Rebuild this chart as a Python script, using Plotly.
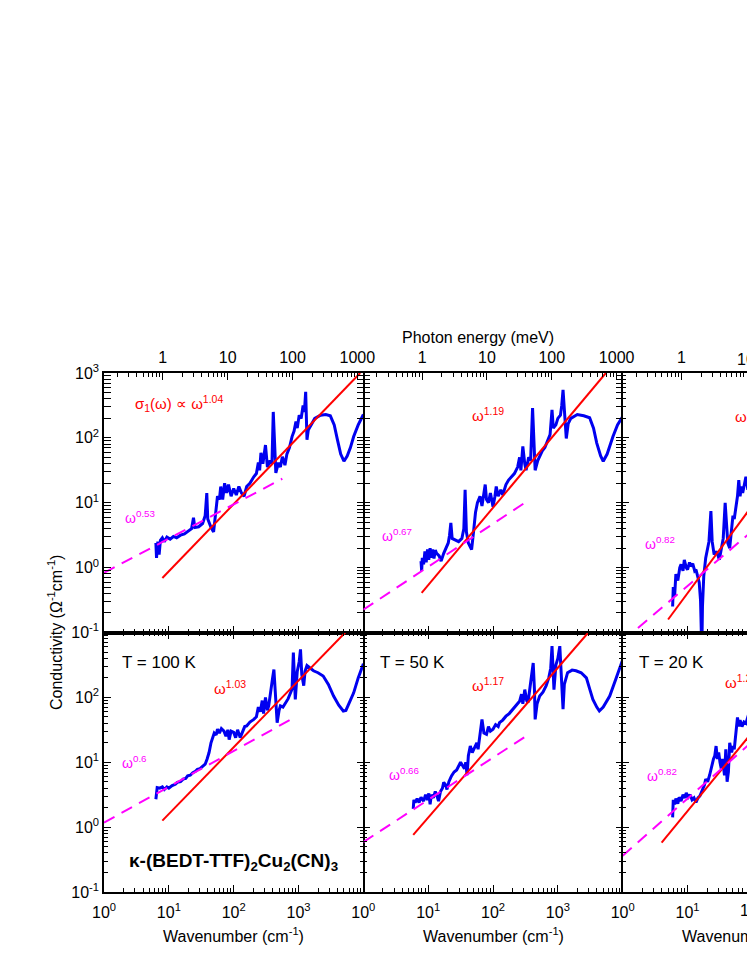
import numpy as np
import plotly.graph_objects as go

# ---------------- data ----------------
# log10 of wavenumber (cm^-1) and log10 of conductivity (Ohm^-1 cm^-1)
tl_lognu = [0.80,0.81,0.83,0.85,0.87,0.90,0.93,0.97,1.02,1.07,
            1.12,1.18,1.24,1.30,1.35,1.38,1.40,1.46,1.52,1.56,
            1.585,1.60,1.65,1.69,1.72,1.75,1.78,1.80,1.83,1.86,
            1.89,1.92,1.96,2.00,2.04,2.08,2.12,2.16,2.20,2.25,
            2.31,2.35,2.38,2.40,2.42,2.45,2.49,2.52,2.56,2.59,
            2.61,2.63,2.65,2.69,2.72,2.75,2.79,2.82,2.86,2.90,
            2.93,2.96,2.98,3.01,3.04,3.07,3.09,3.11,3.12,3.13,
            3.15,3.18,3.25,3.34,3.42,3.49,3.55,3.60,3.65,3.70,
            3.75,3.80,3.85,3.92,4.00]
tl_logsig = [0.38,0.15,0.40,0.20,0.42,0.46,0.40,0.47,0.44,0.48,
             0.46,0.50,0.52,0.56,0.60,0.77,0.62,0.63,0.68,0.80,
             1.15,0.75,0.62,0.55,0.85,1.10,1.05,1.25,1.05,1.30,
             1.15,1.28,1.10,1.22,1.12,1.25,1.15,1.10,1.25,1.30,
             1.40,1.45,1.62,1.50,1.77,1.60,1.89,1.55,1.65,1.60,
             2.40,1.75,1.46,1.62,1.55,1.71,1.58,1.75,1.85,2.02,
             2.10,2.25,2.15,2.35,2.30,2.50,2.40,2.71,2.30,1.97,
             2.12,2.17,2.30,2.35,2.36,2.34,2.20,1.97,1.75,1.64,
             1.72,1.85,2.02,2.20,2.36]

tm_lognu = [0.89,0.90,0.91,0.93,0.95,0.97,0.99,1.01,1.03,1.05,
            1.07,1.09,1.11,1.13,1.17,1.20,1.24,1.28,1.31,1.33,
            1.35,1.37,1.42,1.47,1.52,1.55,1.57,1.59,1.62,1.67,
            1.70,1.73,1.76,1.80,1.83,1.86,1.88,1.90,1.93,1.96,
            2.00,2.03,2.05,2.08,2.12,2.15,2.20,2.24,2.28,2.33,
            2.38,2.41,2.43,2.46,2.49,2.51,2.55,2.58,2.61,2.63,
            2.65,2.69,2.72,2.76,2.80,2.84,2.88,2.91,2.93,2.97,
            3.00,3.04,3.06,3.08,3.10,3.13,3.16,3.20,3.30,3.40,
            3.49,3.55,3.60,3.66,3.70,3.76,3.85,3.92,4.00]
tm_logsig = [0.10,-0.05,0.15,0.05,0.25,0.08,0.28,0.12,0.30,0.15,
             0.28,0.14,0.27,0.22,0.18,0.10,0.22,0.32,0.38,0.50,
             0.69,0.45,0.42,0.40,0.45,0.60,1.20,0.55,0.38,0.28,
             0.55,0.85,1.00,1.10,0.95,1.20,1.28,1.05,1.00,1.15,
             0.94,1.10,1.25,1.10,1.20,1.12,1.28,1.35,1.40,1.45,
             1.55,1.70,1.50,1.87,1.60,1.50,1.70,1.65,2.46,1.80,
             1.50,1.65,1.71,1.80,1.85,1.95,2.05,2.43,2.15,2.20,
             2.30,2.35,2.50,2.74,2.40,1.99,2.22,2.30,2.36,2.34,
             2.31,2.15,1.92,1.72,1.64,1.75,2.02,2.20,2.33]

tr_lognu = [0.77,0.78,0.80,0.82,0.85,0.88,0.90,0.93,0.95,0.98,
            1.00,1.03,1.05,1.08,1.11,1.13,1.16,1.18,1.20,1.22,
            1.23,1.25,1.28,1.30,1.33,1.36,1.38,1.41,1.45,1.49,
            1.52,1.55,1.58,1.60,1.62,1.65,1.68,1.70,1.72,1.75,
            1.77,1.79,1.81,1.83,1.85,1.88,1.90,1.93,1.96,2.00,
            2.10,2.20,2.30,2.50,2.61,2.70,3.00,3.50,3.70,4.00]
tr_logsig = [-0.60,-0.30,-0.45,-0.10,-0.20,0.00,0.05,-0.05,0.12,0.00,
             -0.03,0.08,0.02,0.06,-0.05,-0.03,-0.15,-0.23,-0.50,-1.30,
             -0.60,-0.13,0.15,0.28,0.40,0.87,0.40,0.20,0.25,0.12,
             0.30,0.45,1.00,0.60,0.38,0.30,0.55,0.80,0.75,0.95,
             1.10,1.35,1.10,1.25,1.15,1.30,1.40,1.20,1.35,1.30,
             1.35,1.45,1.55,1.80,2.40,1.80,2.30,2.30,1.65,2.30]

bl_lognu = [0.80,0.81,0.82,0.86,0.90,0.93,0.97,1.00,1.05,1.10,
            1.13,1.18,1.22,1.26,1.29,1.33,1.37,1.41,1.44,1.48,
            1.52,1.56,1.59,1.62,1.65,1.67,1.70,1.73,1.75,1.78,
            1.81,1.85,1.88,1.91,1.93,1.96,2.00,2.03,2.06,2.10,
            2.13,2.17,2.20,2.25,2.31,2.35,2.38,2.41,2.44,2.46,
            2.49,2.52,2.54,2.57,2.60,2.62,2.64,2.66,2.67,2.70,
            2.72,2.76,2.80,2.84,2.88,2.90,2.92,2.94,2.95,2.98,
            3.01,3.03,3.05,3.08,3.10,3.13,3.18,3.23,3.30,3.38,
            3.46,3.54,3.62,3.69,3.73,3.80,3.85,3.92,4.00]
bl_logsig = [0.43,0.55,0.61,0.60,0.62,0.58,0.62,0.60,0.64,0.66,
             0.69,0.70,0.74,0.75,0.79,0.80,0.84,0.86,0.89,0.90,
             0.94,0.97,1.05,1.15,1.30,1.35,1.45,1.42,1.51,1.45,
             1.52,1.48,1.40,1.50,1.35,1.48,1.46,1.38,1.50,1.38,
             1.45,1.55,1.56,1.62,1.66,1.70,1.85,1.78,1.95,1.75,
             2.00,1.80,1.87,2.05,2.30,2.43,2.10,1.90,1.61,1.80,
             1.87,1.85,1.92,1.98,2.08,2.13,2.69,2.00,1.97,2.40,
             2.55,2.74,2.35,2.18,2.40,2.49,2.45,2.41,2.38,2.33,
             2.20,2.02,1.88,1.79,1.80,1.95,2.07,2.30,2.52]

bm_lognu = [0.77,0.78,0.80,0.83,0.86,0.89,0.93,0.96,0.99,1.01,
            1.03,1.05,1.08,1.11,1.13,1.16,1.19,1.22,1.24,1.27,
            1.29,1.32,1.36,1.40,1.44,1.47,1.50,1.53,1.56,1.58,
            1.60,1.62,1.65,1.68,1.72,1.75,1.77,1.80,1.83,1.86,
            1.90,1.93,1.96,2.00,2.04,2.08,2.10,2.15,2.20,2.25,
            2.31,2.36,2.41,2.44,2.46,2.49,2.52,2.54,2.57,2.60,
            2.62,2.64,2.65,2.68,2.72,2.77,2.82,2.86,2.89,2.91,
            2.93,2.94,2.97,3.00,3.03,3.05,3.08,3.10,3.15,3.22,
            3.28,3.36,3.44,3.50,3.54,3.60,3.64,3.70,3.80,3.90,
            4.00]
bm_logsig = [0.28,0.42,0.38,0.44,0.38,0.46,0.40,0.50,0.42,0.52,
             0.35,0.50,0.45,0.55,0.50,0.40,0.55,0.60,0.69,0.65,
             0.58,0.70,0.79,0.85,0.88,0.94,1.00,0.95,0.90,1.00,
             0.80,1.10,1.25,1.15,1.25,1.30,1.20,1.45,1.66,1.45,
             1.43,1.55,1.48,1.51,1.58,1.55,1.61,1.65,1.71,1.75,
             1.82,1.88,1.94,2.05,1.90,2.12,1.95,1.92,2.15,2.35,
             2.53,2.10,1.66,1.90,2.02,2.08,2.18,2.30,2.45,2.79,
             2.30,2.12,2.50,2.60,2.79,2.40,1.82,2.20,2.38,2.42,
             2.41,2.38,2.30,2.10,1.97,1.85,1.79,1.85,2.02,2.30,
             2.58]

br_lognu = [0.77,0.78,0.80,0.82,0.85,0.87,0.90,0.93,0.96,0.98,
            1.01,1.04,1.07,1.10,1.13,1.16,1.19,1.21,1.24,1.26,
            1.28,1.31,1.34,1.36,1.38,1.40,1.42,1.44,1.46,1.48,
            1.50,1.52,1.54,1.56,1.57,1.59,1.60,1.61,1.63,1.65,
            1.68,1.70,1.72,1.74,1.76,1.77,1.79,1.81,1.84,1.87,
            1.90,1.93,2.00,2.20,2.40,2.60,2.70,3.00,3.50,3.70,
            4.00]
br_logsig = [0.15,0.42,0.35,0.44,0.36,0.46,0.40,0.50,0.45,0.53,
             0.46,0.50,0.42,0.45,0.38,0.45,0.48,0.53,0.60,0.65,
             0.74,0.70,0.80,0.90,1.00,1.05,1.10,1.25,1.05,1.15,
             1.00,0.90,1.05,0.85,0.80,1.20,1.00,0.70,0.85,1.30,
             1.15,1.25,1.20,1.40,1.65,1.69,1.55,1.65,1.55,1.62,
             1.60,1.70,1.65,1.75,1.95,2.40,1.90,2.50,2.20,1.80,
             2.50]

# power-law fits (red, solid) : end points, log10 values
red_lognu = {"tl": [0.90, 3.95], "tm": [0.90, 3.74], "tr": [0.70, 3.51],
             "bl": [0.90, 3.72], "bm": [0.77, 3.47], "br": [0.60, 3.26]}
red_logsig = {"tl": [-0.16, 3.0], "tm": [-0.39, 3.0], "tr": [-0.80, 3.0],
              "bl": [0.10, 3.0], "bm": [-0.12, 3.0], "br": [-0.24, 3.0]}
# low-frequency power laws (magenta, dashed)
mag_lognu = {"tl": [0.0, 2.75], "tm": [0.0, 2.49], "tr": [0.0, 2.50],
             "bl": [0.0, 2.88], "bm": [0.0, 2.49], "br": [0.0, 2.50]}
mag_logsig = {"tl": [-0.08, 1.37], "tm": [-0.65, 1.00], "tr": [-1.13, 0.99],
              "bl": [0.07, 1.66], "bm": [-0.23, 1.39], "br": [-0.44, 1.76]}

red_exponents = {"tl": "1.04", "tm": "1.19", "tr": "1.35", "bl": "1.03", "bm": "1.17", "br": "1.22"}
mag_exponents = {"tl": "0.53", "tm": "0.67", "tr": "0.82", "bl": "0.6", "bm": "0.66", "br": "0.82"}
temperatures = {"bl": "T = 100 K", "bm": "T = 50 K", "br": "T = 20 K"}

x_tick_vals = [1, 10, 100, 1000, 10000]
x_tick_text = ["10<sup>0</sup>", "10<sup>1</sup>", "10<sup>2</sup>", "10<sup>3</sup>", "10<sup>4</sup>"]
y_tick_vals = [0.1, 1, 10, 100, 1000]
y_tick_text = ["10<sup>-1</sup>", "10<sup>0</sup>", "10<sup>1</sup>", "10<sup>2</sup>", "10<sup>3</sup>"]
mev_tick_vals = [1, 10, 100, 1000]
mev_tick_text = ["1", "10", "100", "1000"]

CM_PER_MEV = 8.0655

# ---------------- layout geometry ----------------
W, H = 747, 967
FONT = "Arial, 'Liberation Sans', sans-serif"
col_left = [104.0, 363.3, 622.7]
col_w = 259.4
row_top = [373.0, 632.5]
row_h = 259.5
dec_px = col_w / 4.0

def fx(px):
    return px / W

def fy(py):
    return 1 - py / H

minor_x = [m * 10 ** d for d in range(0, 4) for m in range(2, 10)]
minor_y = [m * 10 ** d for d in range(-1, 3) for m in range(2, 10)]
minor_mev = [m * 10 ** d for d in range(-1, 4) for m in range(2, 10)]

def minor(vals):
    return dict(tickmode="array", tickvals=vals, ticks="inside", ticklen=4,
                tickwidth=1, tickcolor="black", showgrid=False)

fig = go.Figure()
panels = [("tl", 0, 0), ("tm", 0, 1), ("tr", 0, 2), ("bl", 1, 0), ("bm", 1, 1), ("br", 1, 2)]
spectra = {"tl": (tl_lognu, tl_logsig), "tm": (tm_lognu, tm_logsig), "tr": (tr_lognu, tr_logsig),
           "bl": (bl_lognu, bl_logsig), "bm": (bm_lognu, bm_logsig), "br": (br_lognu, br_logsig)}

axis_common = dict(type="log", showline=True, linecolor="black", linewidth=1.5,
                   ticks="inside", ticklen=7, tickwidth=1.2, tickcolor="black",
                   showgrid=False, zeroline=False, automargin=False,
                   tickfont=dict(family=FONT, size=16, color="black"))

annotations = []
for i, (key, r, c) in enumerate(panels):
    n = i + 1
    xa = "x" if n == 1 else f"x{n}"
    ya = "y" if n == 1 else f"y{n}"
    lx, ly = spectra[key]
    fig.add_trace(go.Scatter(x=10 ** np.array(lx), y=10 ** np.array(ly), mode="lines",
                             line=dict(color="#0000F0", width=3), xaxis=xa, yaxis=ya,
                             showlegend=False, hoverinfo="skip"))
    fig.add_trace(go.Scatter(x=10 ** np.array(red_lognu[key]), y=10 ** np.array(red_logsig[key]),
                             mode="lines", line=dict(color="#FF0000", width=2),
                             xaxis=xa, yaxis=ya, showlegend=False, hoverinfo="skip"))
    fig.add_trace(go.Scatter(x=10 ** np.array(mag_lognu[key]), y=10 ** np.array(mag_logsig[key]),
                             mode="lines", line=dict(color="#FF00FF", width=2, dash="12px,8px"),
                             xaxis=xa, yaxis=ya, showlegend=False, hoverinfo="skip"))

    x0 = col_left[c]
    x1 = min(x0 + col_w, W)
    xdom = [fx(x0), fx(x1)]
    xmax_log = 4.0 * (x1 - x0) / col_w
    ytop = row_top[r]
    ydom = [fy(ytop + row_h), fy(ytop)]

    xt = list(x_tick_text)
    if c < 2:
        xt[4] = ""
    xaxis = dict(axis_common, domain=xdom, range=[0, xmax_log], anchor=ya,
                 tickmode="array", tickvals=x_tick_vals, ticktext=xt,
                 showticklabels=(r == 1), mirror=("allticks" if r == 1 else False),
                 ticklabelstandoff=5, minor=minor(minor_x))
    yt = list(y_tick_text)
    if r == 1:
        yt[4] = ""
    # shared column borders are drawn once: col 1 draws its own frame (left + mirrored right),
    # col 3 draws its left line, col 2 only adds its ticks
    yaxis = dict(axis_common, domain=ydom, range=[-1, 3], anchor=xa,
                 tickmode="array", tickvals=y_tick_vals, ticktext=yt,
                 showticklabels=(c == 0), mirror=("allticks" if c < 2 else False),
                 showline=(c != 1), minor=minor(minor_y))
    fig.layout["xaxis" if n == 1 else f"xaxis{n}"] = xaxis
    fig.layout["yaxis" if n == 1 else f"yaxis{n}"] = yaxis

    if r == 0:
        m = 7 + c
        fig.add_trace(go.Scatter(x=[], y=[], xaxis=f"x{m}", yaxis=ya, showlegend=False, hoverinfo="skip"))
        lo = 0 - np.log10(CM_PER_MEV)
        fig.layout[f"xaxis{m}"] = dict(axis_common, overlaying=xa, side="top", anchor=ya,
                                       range=[lo, lo + xmax_log], tickmode="array",
                                       tickvals=mev_tick_vals, ticktext=mev_tick_text,
                                       ticklabelstandoff=2, minor=minor(minor_mev))

def ann(text, px, py, color, size=15, bold=False, xanchor="left", angle=0):
    if bold:
        text = f"<b>{text}</b>"
    return dict(text=text, x=fx(px), y=fy(py), xref="paper", yref="paper",
                xanchor=xanchor, yanchor="middle", showarrow=False, textangle=angle,
                font=dict(family=FONT, size=size, color=color))

red_pos = {"tl": (133, 403), "tm": (470, 414), "tr": (733, 415),
           "bl": (212, 687), "bm": (470, 684), "br": (723, 681)}
mag_pos = {"tl": (123, 517), "tm": (380, 535), "tr": (643, 543),
           "bl": (120, 762), "bm": (387, 774), "br": (645, 775)}
for key, _, _ in panels:
    etxt = f"ω<sup>{red_exponents[key]}</sup>"
    if key == "tl":
        etxt = "σ<sub>1</sub>(ω) ∝ " + etxt
    annotations.append(ann(etxt, *red_pos[key], "#FF0000", size=15))
    annotations.append(ann(f"ω<sup>{mag_exponents[key]}</sup>", *mag_pos[key], "#FF00FF", size=14))
t_pos = {"bl": (120, 662), "bm": (378, 662), "br": (637, 662)}
for key, txt in temperatures.items():
    annotations.append(ann(txt, *t_pos[key], "black", size=17))
annotations.append(ann("κ-(BEDT-TTF)<sub>2</sub>Cu<sub>2</sub>(CN)<sub>3</sub>", 127, 862, "black", size=19, bold=True))

# tick labels of the right-hand column that run past the page edge
annotations.append(ann(x_tick_text[2], col_left[2] + 2 * dec_px, 909, "black", size=16, xanchor="center"))
annotations.append(ann(mev_tick_text[1], col_left[2] + (1 + np.log10(CM_PER_MEV)) * dec_px, 359,
                       "black", size=16, xanchor="center"))

for c in range(3):
    annotations.append(ann("Wavenumber (cm<sup>-1</sup>)", col_left[c] + col_w / 2, 935, "black",
                           size=16, xanchor="center"))
annotations.append(ann("Photon energy (meV)", 478, 337, "black", size=16, xanchor="center"))
annotations.append(ann("Conductivity (Ω<sup>-1</sup>cm<sup>-1</sup>)", 55, 633, "black",
                       size=16, xanchor="center", angle=-90))

fig.update_layout(width=W, height=H, margin=dict(l=0, r=0, t=0, b=0, pad=0, autoexpand=False),
                  paper_bgcolor="white", plot_bgcolor="rgba(0,0,0,0)",
                  showlegend=False, annotations=annotations)

fig.write_html("out.html", config={"displayModeBar": False},
               post_script="document.body.style.margin='0px';document.body.style.overflow='hidden';")
